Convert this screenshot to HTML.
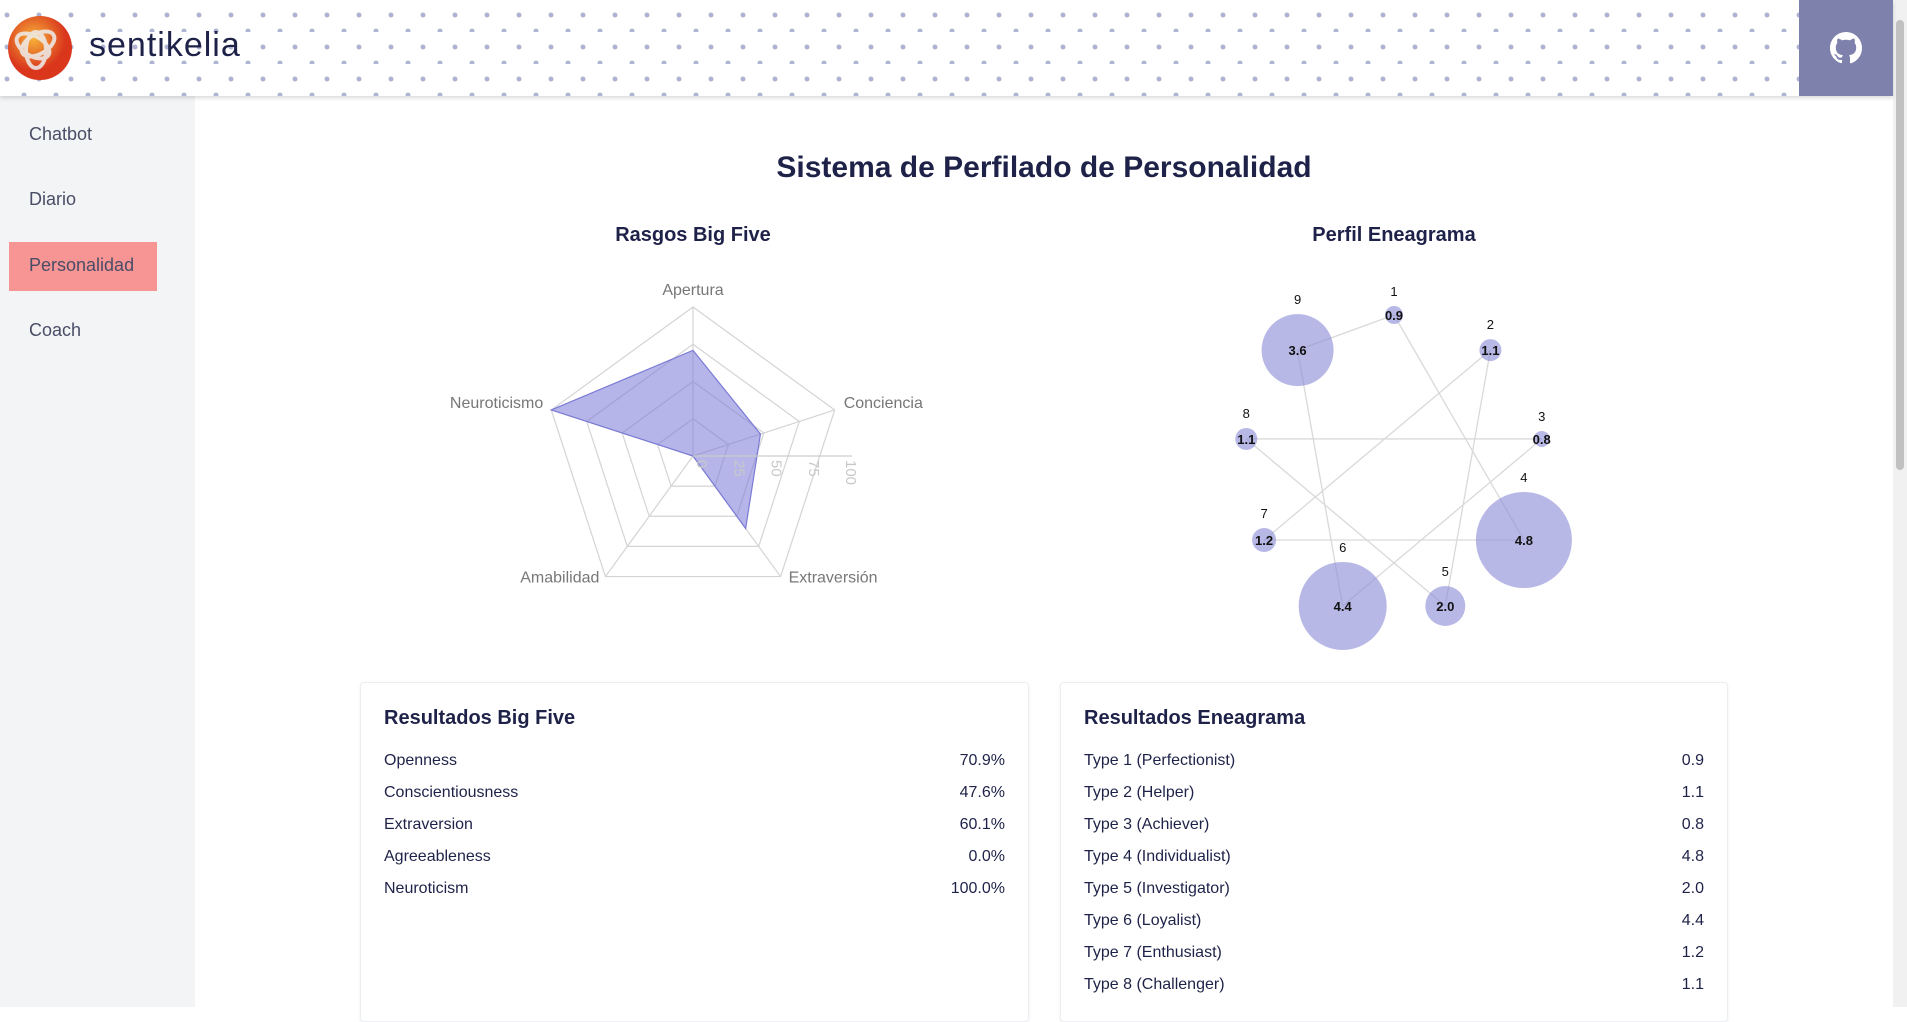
<!DOCTYPE html>
<html><head><meta charset="utf-8"><style>
*{box-sizing:border-box;margin:0;padding:0}
body{width:1907px;height:1007px;overflow:hidden;background:#fff;font-family:"Liberation Sans",sans-serif;position:relative;color:#1e2248}
#header{position:absolute;left:0;top:0;width:1893px;height:96px;background-color:#fff;
background-image:radial-gradient(circle at 7px 15px,#b0b3d4 2.2px,transparent 2.8px),radial-gradient(circle at 24px 31px,#b0b3d4 2.2px,transparent 2.8px);
background-size:32px 32px;box-shadow:0 2px 4px rgba(0,0,0,.15);z-index:2}
#gh{position:absolute;left:1799px;top:0;width:94px;height:96px;background:#7d81ab;display:flex;align-items:center;justify-content:center}
#scroll{position:absolute;left:1893px;top:0;width:14px;height:1007px;background:#f1f1f1}
#scroll div{position:absolute;left:3px;top:20px;width:8px;height:450px;background:#c1c1c1;border-radius:4px}
#side{position:absolute;left:0;top:96px;width:195px;height:911px;background:#f3f4f6}
.nav{position:absolute;left:29px;font-size:18px;color:#4a4d66}
#act{position:absolute;left:9px;top:146px;width:148px;height:49px;background:#f79494}
.card{position:absolute;top:682px;height:340px;background:#fff;border:1px solid #eceef2;box-shadow:0 1px 3px rgba(0,0,0,.06);border-radius:4px}
.card h3{position:absolute;left:23px;top:24px;font-size:20px;font-weight:bold;color:#1e2248}
.row{position:absolute;left:23px;right:23px;font-size:16px;color:#1e2248;display:flex;justify-content:space-between}
</style></head><body>
<div id="header">
 <svg style="position:absolute;left:8px;top:8px" width="66" height="74">
  <defs><radialGradient id="lg" cx="40%" cy="35%"><stop offset="0" stop-color="#f7b23a"/><stop offset="1" stop-color="#d9361c"/></radialGradient></defs>
  <circle cx="32" cy="40" r="32" fill="url(#lg)"/>
  <g fill="none" stroke="#eee" stroke-width="4" opacity=".85"><ellipse cx="25" cy="38" rx="18" ry="10" transform="rotate(30 25 38)"/><ellipse cx="30" cy="36" rx="18" ry="10" transform="rotate(-30 30 36)"/><ellipse cx="28" cy="42" rx="18" ry="10" transform="rotate(90 28 42)"/></g>
 </svg>
 <div style="position:absolute;left:89px;top:26px;font-size:34px;color:#1e2248;letter-spacing:1px">sentikelia</div>
 <div id="gh">
  <svg width="32" height="32" viewBox="0 0 16 16"><path fill="#fff" d="M8 0C3.580 0 0 3.58 0 8c0 3.54 2.29 6.53 5.47 7.59.4.07.55-.17.55-.38v-1.33c-2.230.48-2.7-1.07-2.7-1.07-.36-.92-.89-1.17-.89-1.17-.73-.5.05-.49.05-.49.8.06 1.23.83 1.23.83.71 1.22 1.87.87 2.33.66.07-.52.28-.87.5-1.07-1.78-.2-3.64-.89-3.64-3.95 0-.87.31-1.59.82-2.150-.08-.2-.36-1.02.08-2.12 0 0 .67-.21 2.2.82a7.6 7.6 0 0 1 4 0c1.53-1.04 2.2-.82 2.2-.82.44 1.1.16 1.92.08 2.12.51.56.82 1.27.82 2.15 0 3.07-1.87 3.75-3.65 3.95.29.25.54.73.54 1.48v2.2c0 .21.15.46.55.38A8 8 0 0 0 16 8c0-4.42-3.58-8-8-8z"/></svg>
 </div>
</div>
<div id="scroll"><div></div></div>
<div id="side">
 <div id="act"></div>
 <div class="nav" style="top:28px">Chatbot</div>
 <div class="nav" style="top:93px">Diario</div>
 <div class="nav" style="top:159px">Personalidad</div>
 <div class="nav" style="top:224px">Coach</div>
</div>
<div style="position:absolute;left:195px;width:1698px;top:151px;text-align:center;font-size:30px;font-weight:bold;color:#1e2248">Sistema de Perfilado de Personalidad</div>

<svg id="charts" style="position:absolute;left:0;top:0" width="1893" height="680">
 <text x="693" y="241" text-anchor="middle" font-size="20" font-weight="bold" fill="#1e2248">Rasgos Big Five</text>
 <text x="1394" y="241" text-anchor="middle" font-size="20" font-weight="bold" fill="#1e2248">Perfil Eneagrama</text>
 <g id="radar"></g>
 <g id="enn"></g>
</svg>

<div class="card" style="left:360px;width:669px">
 <h3>Resultados Big Five</h3>
 <div class="row" style="top:69px"><span>Openness</span><span>70.9%</span></div>
 <div class="row" style="top:101px"><span>Conscientiousness</span><span>47.6%</span></div>
 <div class="row" style="top:133px"><span>Extraversion</span><span>60.1%</span></div>
 <div class="row" style="top:165px"><span>Agreeableness</span><span>0.0%</span></div>
 <div class="row" style="top:197px"><span>Neuroticism</span><span>100.0%</span></div>
</div>
<div class="card" style="left:1060px;width:668px">
 <h3>Resultados Eneagrama</h3>
 <div class="row" style="top:69px"><span>Type 1 (Perfectionist)</span><span>0.9</span></div>
 <div class="row" style="top:101px"><span>Type 2 (Helper)</span><span>1.1</span></div>
 <div class="row" style="top:133px"><span>Type 3 (Achiever)</span><span>0.8</span></div>
 <div class="row" style="top:165px"><span>Type 4 (Individualist)</span><span>4.8</span></div>
 <div class="row" style="top:197px"><span>Type 5 (Investigator)</span><span>2.0</span></div>
 <div class="row" style="top:229px"><span>Type 6 (Loyalist)</span><span>4.4</span></div>
 <div class="row" style="top:261px"><span>Type 7 (Enthusiast)</span><span>1.2</span></div>
 <div class="row" style="top:293px"><span>Type 8 (Challenger)</span><span>1.1</span></div>
</div>

<script>
const radarLabels = ["Apertura","Conciencia","Extraversión","Amabilidad","Neuroticismo"];
const radarValues = [70.9,47.6,60.1,0,100];
const radarTicks = [0,25,50,75,100];
const ennTypes = [1,2,3,4,5,6,7,8,9];
const ennValues = [0.9,1.1,0.8,4.8,2.0,4.4,1.2,1.1,3.6];
const ennEdges = [[9,1],[1,4],[2,5],[2,7],[8,3],[8,5],[7,4],[3,6],[6,9]];

const NS="http://www.w3.org/2000/svg";
function mk(tag,attrs,parent){const e=document.createElementNS(NS,tag);for(const k in attrs)e.setAttribute(k,attrs[k]);parent.appendChild(e);return e;}

const rg=document.getElementById('radar');
const cx=693,cy=456,R=149;
const rScale=v=>v/100*R;
const ang=i=>-Math.PI/2+i*2*Math.PI/radarLabels.length;
const pt=(i,v)=>[cx+rScale(v)*Math.cos(ang(i)),cy+rScale(v)*Math.sin(ang(i))];
radarTicks.forEach(t=>{if(t===0)return;
 const g=mk('polygon',{points:radarLabels.map((_,i)=>pt(i,t).join(',')).join(' '),fill:'none',stroke:'#d4d4d4','stroke-width':1.2},rg);
 
 
});
radarLabels.forEach((l,i)=>{const p=pt(i,100);
 const a=mk('line',{x1:cx,y1:cy,x2:p[0],y2:p[1],stroke:'#d4d4d4','stroke-width':1.2},rg);
 
 
});
const area=mk('polygon',{points:radarValues.map((v,i)=>pt(i,v).join(',')).join(' '),fill:'rgba(120,120,215,0.55)',stroke:'#7b7bd6','stroke-width':1.2},rg);


const ax=mk('line',{x1:cx,y1:cy,x2:cx+R+10,y2:cy,stroke:'#ccc','stroke-width':1.2},rg);


radarTicks.forEach(t=>{const x=cx+rScale(t)+4,y=cy+4;
 const tx=mk('text',{x:x,y:y,transform:`rotate(90 ${x} ${y})`,'font-size':15,fill:'#c8c8c8'},rg);
 tx.textContent=t;
 
 
});
const lp=[[0,-12,'middle'],[9,-2,'start'],[8,6,'start'],[-6,6,'end'],[-8,-2,'end']];
radarLabels.forEach((l,i)=>{const p=pt(i,100);
 const t=mk('text',{x:p[0]+lp[i][0],y:p[1]+lp[i][1],'text-anchor':lp[i][2],'font-size':16,fill:'#777'},rg);
 t.textContent=l;
 
 
});

const eg=document.getElementById('enn');
const ex=1394,ey=465,ER=150;
const epos=k=>{const a=(k-1)*2*Math.PI/9;return [ex+ER*Math.sin(a),ey-ER*Math.cos(a)];};
const bub=v=>v*10;
ennEdges.forEach(([a,b])=>{const p=epos(a),q=epos(b);
 const l=mk('line',{x1:p[0],y1:p[1],x2:q[0],y2:q[1],stroke:'#d9d9d9','stroke-width':1.3},eg);
 
 
});
ennTypes.forEach((k,i)=>{const p=epos(k),r=bub(ennValues[i]);
 const c=mk('circle',{cx:p[0],cy:p[1],r:r,fill:'rgba(140,140,215,0.62)'},eg);
 
 
 const v=mk('text',{x:p[0],y:p[1]+5,'text-anchor':'middle','font-size':13,'font-weight':'bold',fill:'#111'},eg);
 v.textContent=ennValues[i].toFixed(1);
 
 
 const n=mk('text',{x:p[0],y:p[1]-r-10,'text-anchor':'middle','font-size':13,fill:'#111'},eg);
 n.textContent=k;
 
 
});
</script>
</body></html>
